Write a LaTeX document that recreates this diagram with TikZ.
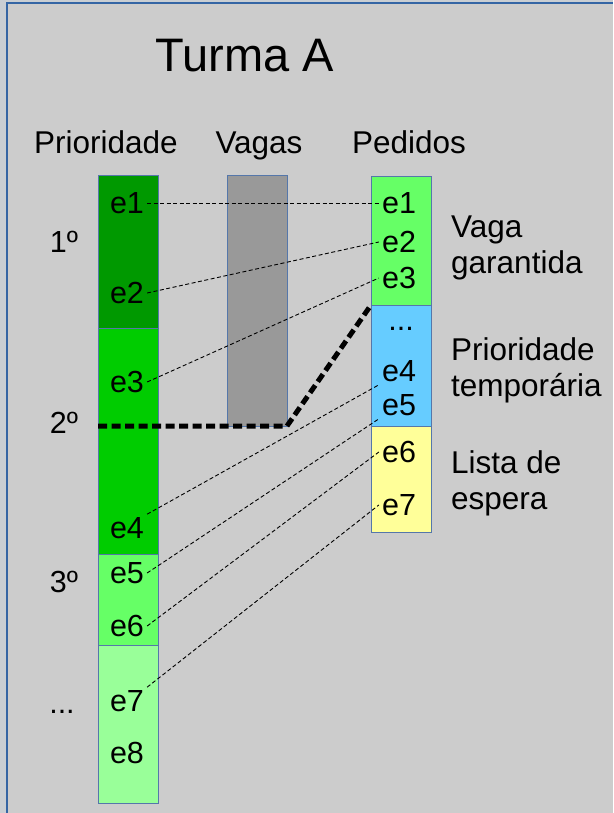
\documentclass[tikz,border=0pt]{standalone}
\usepackage{fontspec}
\setmainfont{Liberation Sans}
\usepackage{xcolor}
\usetikzlibrary{positioning, calc}
\definecolor{framebg}{HTML}{C9CED3}
\definecolor{panelbg}{HTML}{CCCCCC}
\definecolor{frameline}{HTML}{3465A4}
\definecolor{barline}{HTML}{5577AA}
\definecolor{prio1}{HTML}{009900}
\definecolor{prio2}{HTML}{00CC00}
\definecolor{prio3}{HTML}{66FF66}
\definecolor{prio4}{HTML}{99FF99}
\definecolor{vagacol}{HTML}{999999}
\definecolor{tempcol}{HTML}{66CCFF}
\definecolor{esperacol}{HTML}{FFFF99}
\tikzset{
	bar/.style={draw=barline, line width=1pt},
	lbl/.style={font=\fontsize{30.5}{36}\selectfont, inner sep=3pt},
	note/.style={font=\fontsize{31.5}{36}\selectfont, align=left, anchor=west, inner sep=3pt},
	link/.style={line width=0.9pt, dash pattern=on 4pt off 2.5pt},
	cut/.style={line width=5pt, dash pattern=on 9pt off 4.5pt}
}

\begin{document}
\begin{tikzpicture}[x=1pt, y=-1pt]
				  \useasboundingbox (0,0) rectangle (613,813);
				  \fill[framebg] (0,0) rectangle (613,813);
				  \fill[panelbg] (7,3) rectangle (613,813);
				  \draw[frameline, line width=1.5pt] (7,813) -- (7,3) -- (613,3);
				  \node[font=\fontsize{47}{56}\selectfont, anchor=base] (titulo) at (245,72) {Turma A};
				  \node[lbl, font=\fontsize{31.5}{36}\selectfont, anchor=base] (hprio) at (106,154) {Prioridade};
				  \node[lbl, font=\fontsize{31.5}{36}\selectfont, anchor=base] (hvagas) at (259,154) {Vagas};
				  \node[lbl, font=\fontsize{31.5}{36}\selectfont, anchor=base] (hped) at (409,154) {Pedidos};
				  \draw[bar, fill=prio1] (98,176) rectangle (158,328);
				  \draw[bar, fill=prio2] (98,328) rectangle (158,554);
				  \draw[bar, fill=prio3] (98,554) rectangle (158,645);
				  \draw[bar, fill=prio4] (98,645) rectangle (158,803);
				  \draw[bar, fill=vagacol] (227,176) rectangle (287,426);
				  \draw[bar, fill=prio3] (371,177) rectangle (431,305);
				  \draw[bar, fill=tempcol] (371,305) rectangle (431,426);
				  \draw[bar, fill=esperacol] (371,426) rectangle (431,532);
				  \node[lbl] (p1) at (64,242) {1º};
				  \node[lbl] (p2) at (64,423) {2º};
				  \node[lbl] (p3) at (64,582) {3º};
				  \node[lbl, anchor=base] (p4) at (62,713) {...};
				  \node[lbl] (l1) at (127,203) {e1};
				  \node[lbl] (l2) at (127,293) {e2};
				  \node[lbl] (l3) at (127,382) {e3};
				  \node[lbl] (l4) at (127,528) {e4};
				  \node[lbl] (l5) at (127,573) {e5};
				  \node[lbl] (l6) at (127,626) {e6};
				  \node[lbl] (l7) at (127,701) {e7};
				  \node[lbl] (l8) at (127,753) {e8};
				  \node[lbl] (r1) at (399,203) {e1};
				  \node[lbl] (r2) at (399,242) {e2};
				  \node[lbl] (r3) at (399,278) {e3};
				  \node[lbl, anchor=base] (rdots) at (401,330) {...};
				  \node[lbl] (r4) at (399,371) {e4};
				  \node[lbl] (r5) at (399,405) {e5};
				  \node[lbl] (r6) at (399,452) {e6};
				  \node[lbl] (r7) at (399,505) {e7};
				  \node[note] (garantida) at (448,248) {Vaga\\garantida};
				  \node[note] (temporaria) at (448,370) {Prioridade\\temporária};
				  \node[note] (espera) at (448,483) {Lista de\\espera};
				  \draw[link] (l1.east) -- (r1.west);
				  \draw[link] (l2.east) -- (r2.west);
				  \draw[link] (l3.east) -- (r3.west);
				  \draw[link] (l4.north east) -- (r4.south west);
				  \draw[link] (l5.east) -- (r5.south west);
				  \draw[link] (l6.east) -- (r6.west);
				  \draw[link] (l7.north east) -- (r7.west);
				  \coordinate (corte) at (287,426);
				  \draw[cut] (98,426) -- (corte) -- (371,305);
				\end{tikzpicture}
\end{document}
